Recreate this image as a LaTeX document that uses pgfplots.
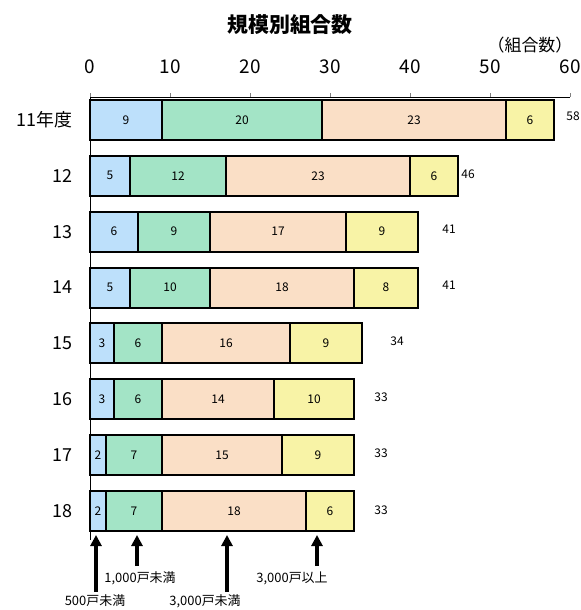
\documentclass[border=0pt]{standalone}
\usepackage{pgfplots}
\usepackage{pgfplotstable}
\pgfplotsset{compat=1.18}
\usepackage{fontspec}
\setmainfont{Noto Sans CJK JP}
\usetikzlibrary{arrows.meta}
\definecolor{cA}{RGB}{189,224,251}
\definecolor{cB}{RGB}{163,228,198}
\definecolor{cC}{RGB}{250,223,198}
\definecolor{cD}{RGB}{248,243,166}
\pgfplotstableread{
y a b c d
7 9 20 23 6
6 5 12 23 6
5 6 9 17 9
4 5 10 18 8
3 3 6 16 9
2 3 6 14 10
1 2 7 15 9
0 2 7 18 6
}\data
\begin{document}
\begin{tikzpicture}
\useasboundingbox (0,0) rectangle (581bp,-610bp);
\begin{axis}[
  at={(90bp,-540bp)}, anchor=south west,
  scale only axis, width=480bp, height=443bp,
  xmin=0, xmax=60, ymin=-0.52, ymax=7.41,
  xbar stacked, bar width=40bp,
  axis x line*=top, axis y line*=left,
  axis line style={line width=0.6bp},
  xtick={0,10,...,60},
  ytick={0,...,7},
  yticklabels={18,17,16,15,14,13,12,11年度},
  /pgf/number format/assume math mode=true,
  tick align=outside,
  major tick length=4bp,
  ytick style={draw=none},
  xticklabel style={font=\fontsize{19}{19}\selectfont, yshift=16bp},
  yticklabel style={font=\fontsize{18}{18}\selectfont, anchor=east, xshift=-10bp},
  nodes near coords,
  every node near coord/.append style={font=\fontsize{12}{12}\selectfont, anchor=center},
  clip=false,
]
\addplot[fill=cA, draw=black, line width=2bp] table[x=a,y=y] {\data};
\addplot[fill=cB, draw=black, line width=2bp] table[x=b,y=y] {\data};
\addplot[fill=cC, draw=black, line width=2bp] table[x=c,y=y] {\data};
\addplot[fill=cD, draw=black, line width=2bp] table[x=d,y=y] {\data};
\end{axis}
\node[font=\bfseries\fontsize{21}{21}\selectfont] at (290bp,-25bp) {規模別組合数};
\node[font=\fontsize{17}{17}\selectfont] at (530bp,-45bp) {（組合数）};
\begin{scope}[font=\fontsize{12}{12}\selectfont]
\node at (573bp,-116bp) {58};
\node at (468bp,-174bp) {46};
\node at (449bp,-229bp) {41};
\node at (449bp,-285bp) {41};
\node at (397bp,-341bp) {34};
\node at (381bp,-397bp) {33};
\node at (381bp,-453bp) {33};
\node at (381bp,-510bp) {33};
\end{scope}
\begin{scope}[line width=3.5bp, -{Triangle[width=11bp,length=11bp]}]
\draw (96bp,-592bp) -- (96bp,-535bp);
\draw (137bp,-566bp) -- (137bp,-535bp);
\draw (227bp,-592bp) -- (227bp,-535bp);
\draw (317bp,-566bp) -- (317bp,-535bp);
\end{scope}
\begin{scope}[font=\fontsize{13}{13}\selectfont]
\node at (140bp,-578bp) {1,000戸未満};
\node at (292bp,-578bp) {3,000戸以上};
\node at (95bp,-601bp) {500戸未満};
\node at (205bp,-601bp) {3,000戸未満};
\end{scope}
\end{tikzpicture}
\end{document}
